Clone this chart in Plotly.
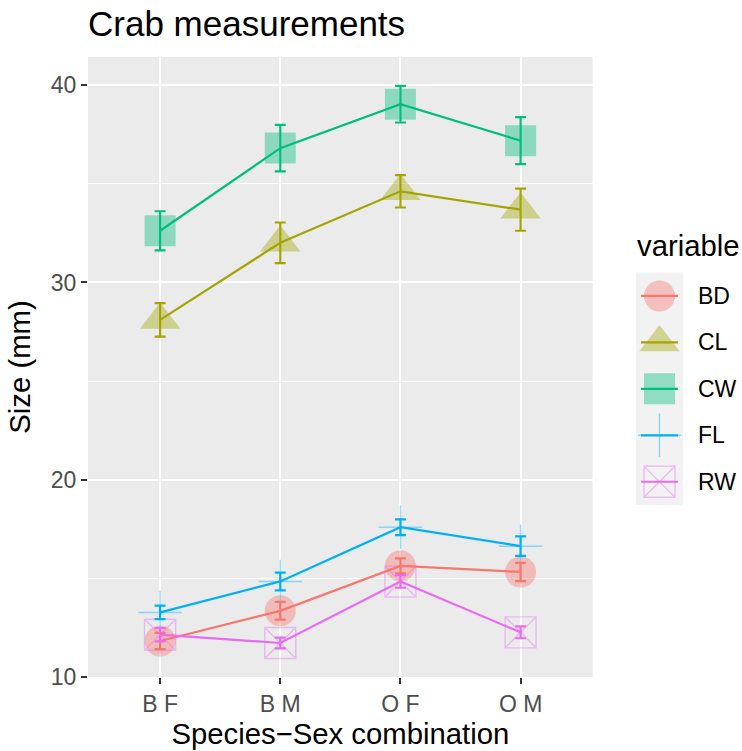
import plotly.graph_objects as go

# ---- data ----
groups = ["B F", "B M", "O F", "O M"]
variables = ["BD", "CL", "CW", "FL", "RW"]
means = {
    "BD": [11.82, 13.35, 15.63, 15.32],
    "CL": [28.10, 32.01, 34.62, 33.69],
    "CW": [32.62, 36.81, 39.04, 37.19],
    "FL": [13.27, 14.84, 17.59, 16.63],
    "RW": [12.14, 11.72, 14.84, 12.26],
}
ses = {
    "BD": [0.41, 0.45, 0.38, 0.46],
    "CL": [0.85, 1.03, 0.82, 1.07],
    "CW": [0.99, 1.18, 0.93, 1.19],
    "FL": [0.34, 0.45, 0.40, 0.49],
    "RW": [0.34, 0.27, 0.32, 0.30],
}
colors = {"BD": "#F8766D", "CL": "#A3A500", "CW": "#00BF7D", "FL": "#00B0F6", "RW": "#E76BF3"}
symbols = {"BD": "circle", "CL": "triangle-up", "CW": "square", "FL": "cross-thin", "RW": "square-x-open"}
sizes = {"BD": 31, "CL": 35, "CW": 31, "FL": 31, "RW": 31}
linew = {"BD": 0, "CL": 0, "CW": 0, "FL": 1.5, "RW": 1.4}

FONT = "Liberation Sans, Arial, Helvetica, sans-serif"
W, H = 742, 751
L, R, T, B = 88, 0, 57, 74
pw, ph = W - L - R, H - T - B

def px_x(p):
    return (p - L) / pw

def px_y(p):
    return (H - B - p) / ph

fig = go.Figure()

def marker(v):
    return dict(symbol=symbols[v], size=sizes[v], color=colors[v], opacity=0.4,
                line=dict(color=colors[v], width=linew[v]))

# points layer
for v in variables:
    fig.add_trace(go.Scatter(x=groups, y=means[v], mode="markers", marker=marker(v),
                             showlegend=False, hoverinfo="skip"))
# lines layer
for v in variables:
    fig.add_trace(go.Scatter(x=groups, y=means[v], mode="lines",
                             line=dict(color=colors[v], width=2.2),
                             showlegend=False, hoverinfo="skip"))
# error bars layer
for v in variables:
    fig.add_trace(go.Scatter(x=groups, y=means[v], mode="lines",
                             line=dict(color=colors[v], width=0),
                             error_y=dict(type="data", array=ses[v], color=colors[v],
                                          thickness=2.2, width=5.5),
                             showlegend=False, hoverinfo="skip"))

# manual legend (keys)
for i, v in enumerate(variables):
    fig.add_trace(go.Scatter(x=[0], y=[i], mode="markers", marker=marker(v),
                             xaxis="x2", yaxis="y2", showlegend=False, hoverinfo="skip"))
    fig.add_trace(go.Scatter(x=[-0.79, 0.79], y=[i, i], mode="lines",
                             line=dict(color=colors[v], width=2.2),
                             xaxis="x2", yaxis="y2", showlegend=False, hoverinfo="skip"))

annotations = []
for i, v in enumerate(variables):
    annotations.append(dict(text=v, x=px_x(696), xref="paper", y=i, yref="y2",
                            xanchor="left", yanchor="middle", showarrow=False,
                            font=dict(size=23, color="black", family=FONT)))
annotations.append(dict(text="variable", x=px_x(635), xref="paper", y=px_y(246), yref="paper",
                        xanchor="left", yanchor="middle", showarrow=False,
                        font=dict(size=29.3, color="black", family=FONT)))

shapes = [dict(type="rect", xref="x2 domain", yref="y2 domain", x0=0, x1=1, y0=0, y1=1,
               fillcolor="#F2F2F2", line=dict(width=0), layer="below")]

axis_common = dict(showgrid=True, gridcolor="white", gridwidth=2, zeroline=False,
                   showline=False, ticks="outside", ticklen=6, tickwidth=2, tickcolor="#333333",
                   tickfont=dict(size=23, color="#4D4D4D", family=FONT))

fig.update_layout(
    width=W, height=H,
    margin=dict(l=L, r=R, t=T, b=B),
    paper_bgcolor="white", plot_bgcolor="#EBEBEB",
    showlegend=False,
    title=dict(text="Crab measurements", xref="container", yref="container",
               x=88 / W, xanchor="left", y=1 - 24 / H, yanchor="middle",
               font=dict(size=35, color="black", family=FONT)),
    xaxis=dict(domain=[0, px_x(592.7)], type="category", categoryorder="array",
               categoryarray=groups, range=[-0.6, 3.6],
               title=dict(text="Species−Sex combination", standoff=7,
                          font=dict(size=29.3, color="black", family=FONT)),
               **axis_common),
    yaxis=dict(range=[9.995, 41.43], tick0=0, dtick=10,
               minor=dict(dtick=5, showgrid=True, gridcolor="white", gridwidth=1, ticks=""),
               title=dict(text="Size (mm)", standoff=11,
                          font=dict(size=29.3, color="black", family=FONT)),
               **axis_common),
    xaxis2=dict(domain=[px_x(636), px_x(683)], anchor="y2", range=[-1, 1], visible=False),
    yaxis2=dict(domain=[px_y(505), px_y(272.7)], anchor="x2", range=[4.5, -0.5], visible=False),
    annotations=annotations,
    shapes=shapes,
)

fig.write_html("out.html")
